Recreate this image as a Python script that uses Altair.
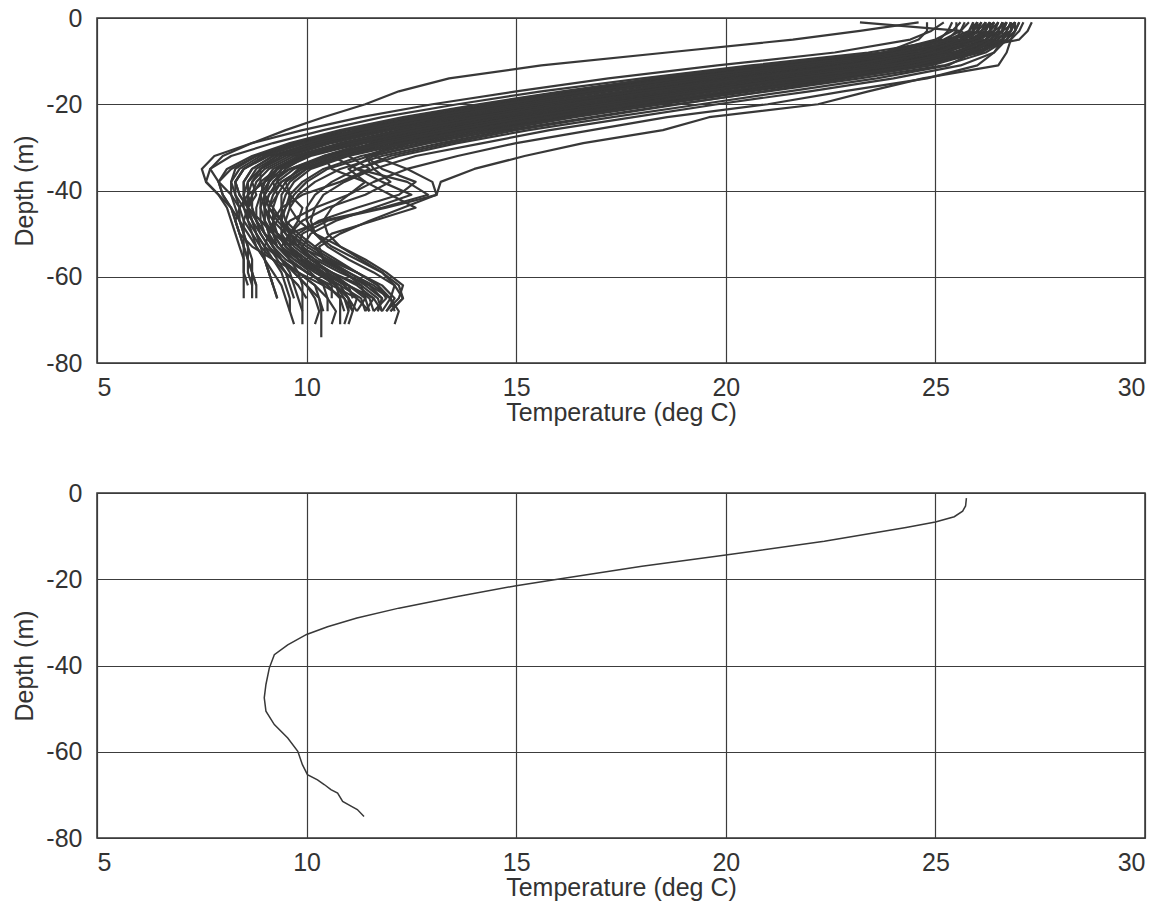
import altair as alt
import pandas as pd

# Depth levels (m) shared by the individual profiles of the top panel
levels = [-1, -3, -5, -8, -11, -14, -17, -20, -23, -26, -29, -32, -35, -38,
          -41, -44, -47, -50, -53, -56, -59, -62, -65, -68, -71, -74]

# Temperature (deg C) of each profile at the levels above (top panel)
profiles = [
    [26.6,26.5,26.2,25.2,23.2,20.6,18.4,16.3,14.3,12.6,11.1,9.9,9.3,9.0,8.9,8.9,9.0,9.2,9.4,9.8,10.3,10.8,11.0,11.1],
    [26.3,26.2,25.8,24.2,21.6,19.0,16.8,14.8,13.0,11.4,10.1,9.2,8.7,8.5,8.5,8.6,8.7,8.8,9.0,9.2,9.5,9.8,10.0],
    [26.8,26.7,26.5,25.8,24.3,22.0,19.6,17.6,15.5,13.8,12.2,10.8,10.0,9.5,9.3,9.2,9.2,9.3,9.5,9.8,10.4,11.0,11.6,11.8],
    [26.0,25.8,25.3,23.4,20.6,18.0,15.6,13.6,11.8,10.4,9.2,8.2,7.7,7.6,7.9,8.2,8.3,8.4,8.5,8.6,8.6,8.7,8.7],
    [27.0,26.9,26.7,26.2,25.2,23.2,21.0,18.8,16.8,14.8,13.2,11.8,10.8,10.2,9.8,9.6,9.5,9.6,9.8,10.2,10.8,11.5,12.0,12.2,12.1],
    [24.6,23.2,21.6,18.6,15.6,13.4,12.2,11.4,10.4,9.5,8.7,8.0,7.7,7.9,8.2,8.4,8.5,8.5,8.6,8.6,8.7,8.7],
    [26.9,26.9,26.8,26.7,26.5,24.7,23.4,22.2,19.6,18.5,16.6,15.2,14.0,13.2,13.1,12.3,11.5,10.8,10.3,10.4,11.0,11.6,12.0,11.8],
    [26.4,26.3,26.0,25.1,23.4,21.0,18.9,16.8,14.9,13.1,11.6,10.6,11.2,12.4,12.9,11.8,10.4,9.6,9.4,9.7,10.2,10.7,11.0,11.2],
    [26.2,26.0,25.7,24.6,22.4,19.8,17.6,15.5,13.6,11.9,10.5,9.5,8.9,8.6,8.5,8.5,8.6,8.8,9.0,9.4,9.8,10.2,10.3,10.35,10.35,10.35],
    [26.7,26.6,26.4,25.6,24.6,22.6,20.3,18.2,16.2,14.3,12.7,11.3,10.4,9.9,9.6,9.6,9.8,10.2,10.8,11.4,11.9,12.3,12.2,11.9],
    [25.8,25.6,25.2,23.8,21.0,18.4,16.2,14.2,12.4,10.9,9.7,8.8,8.3,8.2,8.2,8.3,8.4,8.5,8.6,8.7,8.7,8.8,8.8],
    [27.3,27.2,27.0,25.4,23.0,20.4,18.2,16.0,14.0,12.3,10.9,9.8,9.3,9.1,9.0,9.0,9.1,9.3,9.6,10.0,10.4,10.7,10.9,11.0],
    [23.2,25.6,25.9,25.3,23.8,21.4,19.2,17.2,15.2,13.4,11.8,10.5,9.7,9.3,9.1,9.0,9.0,9.1,9.3,9.6,10.0,10.5,10.8],
    [26.1,26.0,25.6,24.3,22.0,19.4,17.2,15.1,13.2,11.6,10.3,9.3,8.8,8.6,8.6,8.7,8.8,9.0,9.2,9.4,9.7,10.0,10.2,10.3,10.2],
    [26.5,26.4,26.2,25.5,24.0,21.8,19.6,17.4,15.5,13.7,12.3,11.4,11.8,12.6,12.2,11.2,10.3,9.8,9.6,9.8,10.3,11.0,11.5,11.6],
    [25.9,25.8,25.6,24.9,23.1,20.8,18.6,16.5,14.5,12.8,11.3,10.1,9.4,9.1,8.9,8.8,8.8,8.9,9.1,9.4,9.8,10.2,10.5,10.7,10.6],
    [26.4,26.1,25.4,23.9,21.2,18.6,16.4,14.4,12.6,11.0,9.8,8.8,8.2,7.9,8.0,8.2,8.3,8.4,8.5,8.6,8.7,8.8],
    [26.9,26.8,26.6,26.0,24.9,22.8,20.6,18.5,16.4,14.6,12.9,11.6,11.0,11.4,12.0,12.6,11.6,10.6,10.2,10.4,10.9,11.4,11.8,11.7],
    [26.6,26.5,26.3,25.4,23.6,21.2,19.0,16.9,14.9,13.1,11.6,10.4,9.6,9.2,9.0,8.9,8.9,9.0,9.2,9.5,10.0,10.6,11.2,11.5],
    [25.4,25.3,25.1,24.5,22.6,20.0,17.9,15.8,13.9,12.2,10.8,9.7,9.1,8.8,8.7,8.7,8.8,9.0,9.3,9.7,10.1,10.4,10.5,10.5],
    [26.2,26.1,25.9,25.3,23.9,21.7,19.5,17.4,15.4,13.6,12.0,10.7,9.9,9.4,9.2,9.1,9.1,9.2,9.4,9.6,9.8,9.9,9.9,9.9,9.9],
    [26.8,26.8,26.7,26.4,25.6,24.0,22.0,19.8,17.8,15.8,14.2,12.6,11.6,10.9,10.4,10.2,10.1,10.2,10.5,11.0,11.6,12.1,12.3,12.0],
    [26.7,26.4,25.9,24.7,22.5,19.9,17.7,15.6,13.7,12.0,10.6,9.6,9.0,8.7,8.6,8.6,8.7,8.8,8.9,9.0,9.1,9.2],
    [25.7,25.6,25.5,25.0,23.6,21.3,19.2,17.1,15.2,13.5,12.1,11.6,12.4,13.0,13.1,11.9,10.5,9.9,9.8,10.1,10.6,11.2,11.6,11.4],
    [25.2,24.9,24.4,22.6,19.8,17.2,15.0,13.0,11.3,9.9,8.7,7.8,7.5,7.6,7.9,8.1,8.2,8.3,8.4,8.5,8.5,8.6],
    [26.9,26.8,26.4,25.1,22.9,20.4,18.2,16.1,14.2,12.5,11.0,9.9,9.3,9.1,9.0,9.1,9.3,9.6,10.0,10.5,11.0,11.5,11.8,11.7],
    [26.3,26.3,26.2,25.9,25.3,23.6,21.5,19.4,17.3,15.3,13.6,12.2,11.2,10.6,10.2,10.0,10.0,10.2,10.6,11.2,11.8,12.2,12.3,12.0],
    [26.5,26.4,26.0,24.8,22.7,20.1,17.9,15.9,14.0,12.3,10.9,9.8,9.2,9.0,8.9,9.0,9.2,9.5,9.8,10.2,10.5,10.7,10.8,10.8,10.8],
    [26.0,26.0,25.8,25.3,24.3,22.3,20.2,18.0,16.0,14.1,12.5,11.4,11.6,12.0,11.4,10.5,9.9,9.6,9.6,9.9,10.4,10.9,11.2,11.1],
    [25.6,25.4,25.0,23.8,21.3,18.8,16.6,14.6,12.8,11.2,9.9,9.0,8.5,8.3,8.3,8.4,8.4,8.5,8.5,8.5,8.5,8.5,8.5],
    [27.0,26.9,26.7,25.9,24.2,21.9,19.7,17.6,15.6,13.8,12.2,10.9,10.0,9.6,9.4,9.4,9.5,9.8,10.2,10.7,11.2,11.7,12.0,12.1],
    [26.6,26.6,26.6,26.4,26.0,24.8,22.8,21.0,18.6,16.8,15.0,13.6,12.4,11.6,11.0,10.6,10.4,10.5,10.8,11.3,11.8,12.1,12.0],
    [24.8,24.8,24.6,23.8,21.8,19.2,17.0,15.0,13.1,11.5,10.2,9.2,8.7,8.5,8.5,8.6,8.8,9.0,9.2,9.4,9.6,9.7,9.8,9.9],
    [26.3,26.2,26.0,25.2,23.3,21.0,18.8,16.7,14.7,13.0,11.6,11.0,11.5,10.8,9.9,9.4,9.2,9.2,9.3,9.6,10.0,10.5,10.8,10.9],
    [26.9,26.6,25.9,24.0,21.4,18.8,16.6,14.6,12.8,11.2,9.9,8.9,8.4,8.2,8.3,8.5,8.7,8.9,9.1,9.3,9.5,9.6,9.7],
    [26.0,25.9,25.7,25.0,23.5,21.2,19.0,16.9,15.0,13.2,11.7,10.5,9.6,9.0,8.6,8.4,8.3,8.4,8.7,9.2,9.8,10.4,10.9,11.1,11.0],
    [26.7,26.6,26.3,25.5,23.8,21.1,19.1,17.0,14.6,12.9,11.3,10.0,9.5,9.2,9.3,9.1,9.4,9.6,9.9,10.3,10.9,11.3,11.4,11.2],
    [26.4,26.3,26.1,24.9,22.8,20.3,17.9,15.6,13.5,11.8,10.4,9.4,8.9,8.7,8.8,8.6,8.9,9.3,9.8,10.5,11.2,11.7,11.9,11.6],
    [25.9,25.9,25.7,24.6,22.2,19.6,17.5,15.3,13.3,11.7,10.2,9.1,8.5,8.3,8.4,8.6,8.5,8.7,8.9,9.2,9.4,9.5,9.6,9.6,9.7],
    [26.8,26.7,26.6,26.1,24.7,22.4,20.1,17.9,15.9,14.0,12.4,11.0,10.1,9.7,9.5,9.4,9.4,9.5,9.7,10.1,10.6,11.0,11.1],
    [26.2,26.2,25.9,25.0,23.2,20.9,18.7,16.6,14.6,12.9,11.4,10.4,10.6,11.4,11.0,10.2,9.6,9.4,9.5,9.9,10.6,11.3,11.7,11.8],
    [26.5,26.3,25.9,24.4,21.9,19.3,17.1,15.0,13.2,11.6,10.2,9.3,8.9,8.9,9.0,9.2,9.4,9.7,10.1,10.6,11.2,11.8,12.1,11.9],
    [26.9,26.8,26.6,25.7,24.1,21.6,19.4,17.3,15.3,13.5,11.9,10.6,9.8,9.5,9.6,9.5,9.3,9.1,9.0,9.0,9.1,9.2,9.3],
    [25.5,25.5,25.3,24.7,23.0,20.7,18.5,16.4,14.4,12.7,11.2,10.0,9.3,8.9,8.7,8.6,8.6,8.7,8.8,9.0,9.2,9.4,9.5,9.6],
    [26.6,26.6,26.4,25.9,24.8,22.9,20.9,18.9,16.9,15.0,13.4,12.0,11.2,11.8,12.5,11.6,10.7,10.1,9.9,10.1,10.5,11.0,11.4,11.5],
    [26.3,26.1,25.6,24.1,21.5,18.9,16.7,14.7,12.9,11.3,10.0,9.0,8.5,8.3,8.4,8.6,8.9,9.2,9.6,10.0,10.4,10.6,10.6],
    [27.1,27.0,26.8,26.0,24.5,22.2,20.0,17.8,15.8,13.9,12.3,10.9,9.9,9.4,9.1,9.0,9.0,9.1,9.2,9.4,9.7,10.0,10.3,10.4],
    [26.0,25.9,25.6,24.7,22.9,20.5,18.3,16.2,14.3,12.6,11.1,10.0,9.4,9.3,9.6,9.9,9.8,9.6,9.6,9.8,10.2,10.8,11.3,11.4],
    [26.7,26.6,26.4,25.8,24.5,22.5,20.4,18.3,16.3,14.5,12.9,11.5,10.5,10.0,9.7,9.5,9.4,9.4,9.6,9.9,10.3,10.7,11.0,11.0,10.9],
    [26.1,25.9,25.4,23.7,20.9,18.3,16.1,14.1,12.3,10.8,9.6,8.7,8.1,7.9,8.0,8.2,8.4,8.6,8.8,9.0,9.1,9.2,9.3],
]

# Mean profile (bottom panel)
mean_depth = [-1.2, -3, -4.2, -5.5, -6.7, -8, -11.2, -14.4, -17, -19.8, -21.5, -24, -26.7,
              -29, -31, -32.8, -35.2, -37.5, -40.6, -44.4, -47.5, -50.6, -53.7, -56.8,
              -59.9, -63, -65.3, -66.5, -67.6, -68.8, -69.6, -71.5, -72.6, -73.4, -75]
mean_temp = [25.74, 25.72, 25.65, 25.45, 25.0, 24.3, 22.35, 20.0, 18.0, 16.1, 15.0, 13.6, 12.2,
             11.2, 10.5, 10.0, 9.55, 9.23, 9.11, 9.03, 8.99, 9.03, 9.23, 9.55,
             9.79, 9.9, 10.02, 10.26, 10.42, 10.58, 10.74, 10.86, 11.06, 11.21, 11.37]

x_ticks = [5, 10, 15, 20, 25, 30]
y_ticks = [-80, -60, -40, -20, 0]

rows = []
for p, temps in enumerate(profiles):
    for i, t in enumerate(temps):
        rows.append({"profile": p, "seq": i, "depth": levels[i], "temp": t})
df_top = pd.DataFrame(rows)
df_bot = pd.DataFrame({"seq": list(range(len(mean_temp))), "depth": mean_depth, "temp": mean_temp})

LINE = "#383838"
W, H = 1048, 345

def xenc():
    return alt.X("temp:Q", title="Temperature (deg C)",
                 scale=alt.Scale(domain=[5, 30], nice=False, zero=False),
                 axis=alt.Axis(values=x_ticks, labelExpr="'' + datum.value"))

def yenc():
    return alt.Y("depth:Q", title="Depth (m)",
                 scale=alt.Scale(domain=[-80, 0], nice=False, zero=False),
                 axis=alt.Axis(values=y_ticks, labelExpr="'' + datum.value"))

top = alt.Chart(df_top).mark_line(color=LINE, strokeWidth=2.2, strokeJoin="round").encode(
    x=xenc(), y=yenc(), detail="profile:N", order="seq:Q"
).properties(width=W, height=H)

bottom = alt.Chart(df_bot).mark_line(color=LINE, strokeWidth=1.5).encode(
    x=xenc(), y=yenc(), order="seq:Q"
).properties(width=W, height=H)

chart = alt.vconcat(top, bottom, spacing=54).properties(
    padding={"left": 12, "top": 5, "right": 5, "bottom": 5}
).configure_view(
    stroke="#333333", strokeWidth=1.5
).configure_axis(
    grid=True, gridColor="#3c3c3c", gridOpacity=1, gridWidth=1.2,
    domain=False, ticks=False,
    labelFont="Liberation Sans", labelFontSize=25, labelColor="#333333",
    labelPadding=12,
    titleFont="Liberation Sans", titleFontSize=25, titleFontWeight="normal",
    titleColor="#333333", titlePadding=0,
).configure_axisY(labelPadding=15, titlePadding=8)

chart.save("out.html", embed_options={"renderer": "svg", "actions": False})
